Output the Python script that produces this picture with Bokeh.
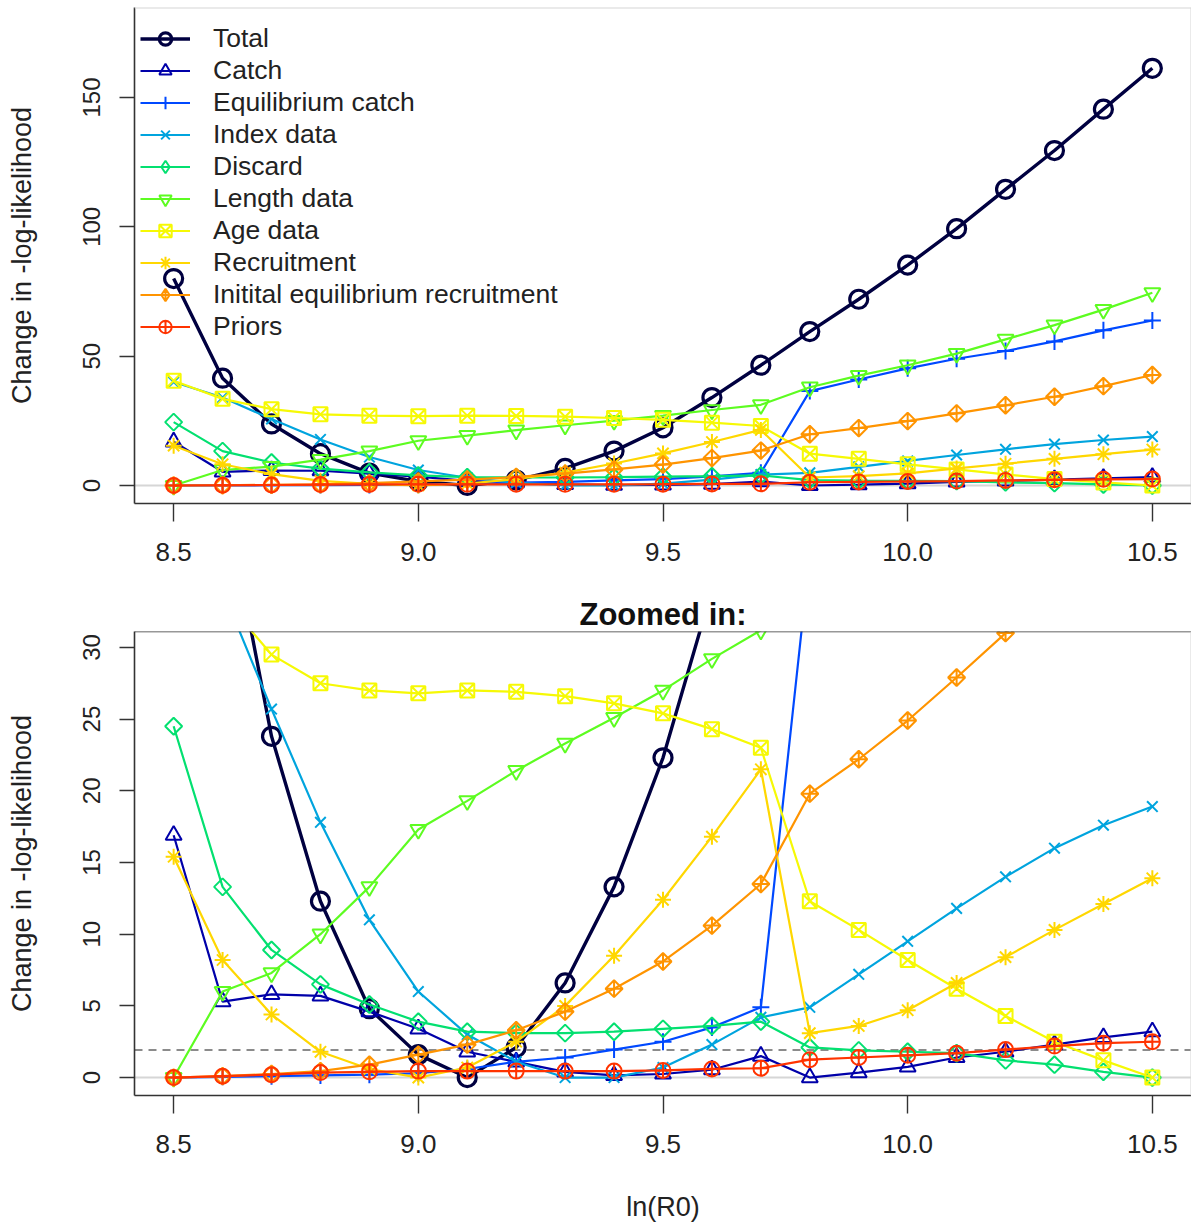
import math
from bokeh.plotting import figure
from bokeh.layouts import column
from bokeh.models import Range1d, FixedTicker, Span, Legend, LegendItem, NumeralTickFormatter
from bokeh.embed import file_html
from bokeh.resources import INLINE

FONT = "Liberation Sans"

# ---- data ----
ln_r0 = [8.5, 8.6, 8.7, 8.8, 8.9, 9.0, 9.1, 9.2, 9.3, 9.4, 9.5,
         9.6, 9.7, 9.8, 9.9, 10.0, 10.1, 10.2, 10.3, 10.4, 10.5]

total = [80.0, 41.5, 23.8, 12.3, 4.8, 1.6, 0.0, 2.1, 6.6, 13.3, 22.3,
         34.0, 46.5, 59.5, 72.0, 85.2, 99.3, 114.5, 129.5, 145.5, 161.3]
catch = [16.9, 5.3, 5.8, 5.7, 4.6, 3.4, 1.8, 1.1, 0.4, 0.15, 0.25,
         0.55, 1.5, 0.0, 0.35, 0.75, 1.4, 1.8, 2.3, 2.8, 3.2]
equil_catch = [0.0, 0.05, 0.1, 0.15, 0.2, 0.3, 0.6, 1.1, 1.4, 1.95, 2.5,
               3.5, 4.9, 36.5, 41.0, 45.3, 49.0, 52.0, 55.7, 60.0, 63.8]
index_data = [40.0, 34.0, 25.7, 17.8, 11.0, 6.0, 3.0, 1.1, 0.0, 0.0, 0.7,
              2.3, 4.2, 4.9, 7.2, 9.5, 11.8, 14.0, 16.0, 17.6, 18.9]
discard = [24.5, 13.3, 8.9, 6.5, 5.1, 3.9, 3.2, 3.1, 3.1, 3.2, 3.4,
           3.6, 3.9, 2.1, 1.9, 1.8, 1.7, 1.2, 0.9, 0.4, 0.0]
length_data = [0.0, 6.0, 7.3, 10.0, 13.3, 17.3, 19.3, 21.4, 23.3, 25.1, 27.0,
               29.2, 31.2, 38.0, 42.5, 46.5, 51.0, 56.5, 62.0, 68.0, 74.5]
age_data = [40.5, 33.5, 29.5, 27.5, 27.0, 26.8, 27.0, 26.9, 26.6, 26.1, 25.4,
            24.3, 23.0, 12.3, 10.3, 8.2, 6.2, 4.3, 2.5, 1.2, 0.0]
recruitment = [15.4, 8.2, 4.4, 1.8, 0.6, 0.0, 0.7, 2.5, 5.0, 8.5, 12.4,
               16.8, 21.5, 3.1, 3.6, 4.7, 6.6, 8.4, 10.3, 12.1, 13.9]
init_eq_recruitment = [0.0, 0.1, 0.25, 0.45, 0.9, 1.6, 2.3, 3.3, 4.6, 6.2, 8.1,
                       10.6, 13.5, 19.8, 22.2, 24.9, 27.9, 31.0, 34.3, 38.4, 42.7]
priors = [0.0, 0.1, 0.2, 0.35, 0.4, 0.45, 0.45, 0.45, 0.45, 0.45, 0.5,
          0.6, 0.65, 1.25, 1.4, 1.55, 1.7, 1.95, 2.2, 2.4, 2.5]

series_names = ["Total", "Catch", "Equilibrium catch", "Index data", "Discard",
                "Length data", "Age data", "Recruitment",
                "Initital equilibrium recruitment", "Priors"]
series_values = [total, catch, equil_catch, index_data, discard, length_data,
                 age_data, recruitment, init_eq_recruitment, priors]
series_colors = ["#000040", "#0000A9", "#0049FF", "#00A4DE", "#03E070",
                 "#5DFC21", "#F6F905", "#FFD701", "#FF9400", "#FF3300"]
# (marker, size, angle, legend marker, legend size) mimicking R pch 1..10
series_markers = [("circle", 18, 0, None, None),
                  ("triangle", 16, 0, None, None),
                  ("cross", 17, 0, None, None),
                  ("x", 15, 0, None, None),
                  ("square", 12, math.pi / 4, "diamond", 18),
                  ("inverted_triangle", 16, 0, None, None),
                  ("square_x", 14, 0, None, None),
                  ("asterisk", 16, 0, None, None),
                  ("square_x", 12, math.pi / 4, "diamond_cross", 18),
                  ("circle_cross", 15, 0, None, None)]

x_ticks = [8.5, 9.0, 9.5, 10.0, 10.5]
top_y_ticks = [0, 50, 100, 150]
zoom_y_ticks = [0, 5, 10, 15, 20, 25, 30]
chi_threshold = 1.92
ylabel = "Change in -log-likelihood"
xlabel = "ln(R0)"
zoom_title = "Zoomed in:"

FRAME_DARK = "#333333"
FRAME_LIGHT = "#d6d6d6"
X_RANGE = (8.42, 10.58)


def style_axes(p, yticks):
    p.xaxis.ticker = FixedTicker(ticks=x_ticks)
    p.xaxis.formatter = NumeralTickFormatter(format="0.0")
    p.yaxis.ticker = FixedTicker(ticks=yticks)
    for ax in (p.xaxis[0], p.yaxis[0]):
        ax.axis_line_color = FRAME_DARK
        ax.axis_line_width = 1.6
        ax.major_tick_line_color = FRAME_DARK
        ax.major_tick_line_width = 1.4
        ax.major_tick_in = 0
        ax.minor_tick_in = 0
        ax.minor_tick_out = 0
        ax.major_label_text_font = FONT
        ax.major_label_text_color = "#222222"
        ax.axis_label_text_font = FONT
        ax.axis_label_text_color = "#222222"
        ax.axis_label_text_font_style = "normal"
        ax.axis_label_text_font_size = "27px"
    p.xaxis.major_tick_out = 18
    p.xaxis.major_label_text_font_size = "26px"
    p.xaxis.major_label_standoff = 21
    p.yaxis.major_tick_out = 15
    p.yaxis.major_label_text_font_size = "24px"
    p.yaxis.major_label_orientation = "vertical"
    p.yaxis.major_label_standoff = 19
    p.yaxis.axis_label = ylabel
    p.yaxis.axis_label_standoff = 44


def make_fig(height, yr, border_top, border_bottom, yticks):
    p = figure(width=1191, height=height,
               x_range=Range1d(*X_RANGE), y_range=Range1d(*yr),
               output_backend="svg", toolbar_location=None,
               min_border_left=134, min_border_right=0,
               min_border_top=border_top, min_border_bottom=border_bottom)
    p.grid.visible = False
    p.outline_line_color = None
    p.background_fill_color = "white"
    p.border_fill_color = "white"
    style_axes(p, yticks)
    p.add_layout(Span(location=0, dimension="width", line_color=FRAME_LIGHT,
                      line_width=2, level="underlay"))
    return p


def draw_series(p):
    renderers = []
    for name, vals, col, (mk, size, ang, lmk, lsize) in zip(
            series_names, series_values, series_colors, series_markers):
        is_total = name == "Total"
        lw = 3.4 if is_total else 2.2
        mlw = 3.2 if is_total else 2.0
        ln = p.line(ln_r0, vals, line_color=col, line_width=lw)
        sc = p.scatter(ln_r0, vals, marker=mk, size=size, angle=ang,
                       line_color=col, line_width=mlw, fill_color=None)
        if lmk is not None:
            # legend-only proxy (no visible point), R-style diamond symbol
            sc_leg = p.scatter([float("nan")], [float("nan")], marker=lmk,
                               size=lsize, line_color=col, line_width=mlw,
                               fill_color=None)
        else:
            sc_leg = sc
        renderers.append((name, ln, sc_leg))
    return renderers


# ---- top: full range ----
TOP_YR = (-6.96, 184.8)
p1 = make_fig(590, TOP_YR, 7, 87, top_y_ticks)
rends = draw_series(p1)
p1.add_layout(Span(location=TOP_YR[1], dimension="width", line_color=FRAME_LIGHT,
                   line_width=2, level="overlay"))
p1.add_layout(Span(location=X_RANGE[1], dimension="height", line_color=FRAME_LIGHT,
                   line_width=2, level="overlay"))

items = [LegendItem(label=n, renderers=[l, s]) for n, l, s in rends]
legend = Legend(items=items, location=(6, 161), border_line_color=None,
                background_fill_alpha=0, padding=0, spacing=1,
                label_height=31, glyph_height=31, glyph_width=50,
                label_standoff=23, label_text_font=FONT,
                label_text_font_size="26.5px", label_text_color="#222222")
p1.add_layout(legend)

# ---- bottom: zoomed in ----
BOT_YR = (-1.25, 31.11)
p2 = make_fig(634, BOT_YR, 41, 128, zoom_y_ticks)
p2.add_layout(Span(location=chi_threshold, dimension="width",
                   line_color="#666666", line_width=1.6, line_dash="8 6",
                   level="underlay"))
draw_series(p2)
p2.add_layout(Span(location=BOT_YR[1], dimension="width", line_color=FRAME_DARK,
                   line_width=1.6, level="overlay"))
p2.add_layout(Span(location=X_RANGE[1], dimension="height", line_color=FRAME_LIGHT,
                   line_width=2, level="overlay"))
p2.xaxis.axis_label = xlabel
p2.xaxis.axis_label_standoff = 36
p2.title.text = zoom_title
p2.title.align = "center"
p2.title.text_font = FONT
p2.title.text_font_size = "31px"
p2.title.text_font_style = "bold"
p2.title.text_color = "#111111"
p2.title.standoff = 0

layout = column(p1, p2, spacing=0)
open("out.html", "w").write(file_html(layout, INLINE))
